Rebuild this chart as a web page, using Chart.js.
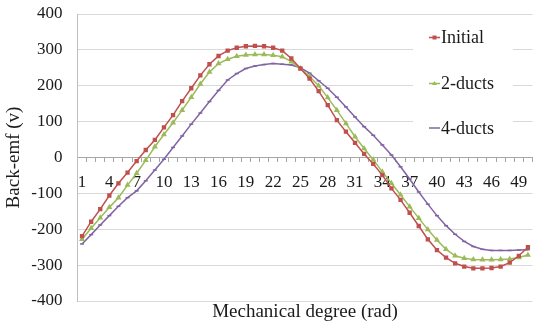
<!DOCTYPE html>
<html>
<head>
<meta charset="utf-8">
<script src="https://cdn.jsdelivr.net/npm/chart.js@4.4.1/dist/chart.umd.min.js"></script>
<style>
    html, body { margin: 0; padding: 0; background: #ffffff; }
    #wrap { width: 539px; height: 326px; }
</style>
</head>
<body>
<div id="wrap"><canvas id="chart"></canvas></div>
<script>
// Mechanical degree categories (1..50), every 3rd one gets a label
const degrees = [1, 2, 3, 4, 5, 6, 7, 8, 9, 10, 11, 12, 13, 14, 15, 16, 17, 18, 19, 20,
    21, 22, 23, 24, 25, 26, 27, 28, 29, 30, 31, 32, 33, 34, 35, 36, 37, 38, 39, 40,
    41, 42, 43, 44, 45, 46, 47, 48, 49, 50];

const seriesNames = ["Initial", "2-ducts", "4-ducts"];

// Back-emf values
const initialEmf = [-219, -179, -144, -106, -72, -42, -10, 21, 49, 84,
    118, 157, 193, 229, 260, 283, 298, 306, 310, 311,
    310, 306, 298, 276, 248, 220, 185, 146, 104, 72,
    41, 10, -18, -49, -86, -118, -154, -191, -228, -258,
    -279, -295, -304, -309, -309, -308, -304, -293, -274, -250];

const twoDuctsEmf = [-228, -197, -168, -139, -112, -77, -44, -8, 30, 64,
    97, 132, 168, 205, 238, 262, 274, 282, 286, 287,
    287, 285, 281, 267, 248, 226, 200, 167, 132, 95,
    58, 25, -6, -40, -72, -104, -137, -169, -201, -230,
    -256, -274, -281, -284, -285, -285, -284, -283, -279, -272];

const fourDuctsEmf = [-241, -215, -188, -162, -136, -112, -93, -65, -35, -5,
    28, 60, 93, 124, 156, 187, 216, 234, 248, 255,
    259, 262, 260, 258, 250, 235, 214, 193, 168, 141,
    113, 86, 62, 35, 7, -26, -60, -96, -130, -162,
    -190, -214, -234, -248, -256, -259, -259, -259, -258, -257];

const seriesColors = ['#C0504D', '#9BBB59', '#8064A2'];
const fontFamily = '"Liberation Serif", "Times New Roman", serif';

// legend drawn inside the plot, on a white box over the grid
const insideLegend = {
    id: 'insideLegend',
    beforeDatasetsDraw(chart) {
        const ctx = chart.ctx;
        ctx.save();
        ctx.fillStyle = '#ffffff';
        ctx.fillRect(413, 20, 100, 125);
        const rows = [37.5, 83.5, 128];
        chart.data.datasets.forEach((ds, i) => {
            const y = rows[i];
            ctx.strokeStyle = ds.borderColor;
            ctx.lineWidth = 1.5;
            ctx.beginPath();
            ctx.moveTo(429, y);
            ctx.lineTo(440, y);
            ctx.stroke();
            ctx.fillStyle = ds.borderColor;
            if (ds.pointStyle === 'rect') {
                ctx.fillRect(432.5, y - 2, 4, 4);
            } else if (ds.pointStyle === 'triangle') {
                ctx.beginPath();
                ctx.moveTo(434.5, y - 2.5);
                ctx.lineTo(437, y + 1.5);
                ctx.lineTo(432, y + 1.5);
                ctx.closePath();
                ctx.fill();
            }
            ctx.fillStyle = '#1a1a1a';
            ctx.font = '18px ' + fontFamily;
            ctx.textAlign = 'left';
            ctx.textBaseline = 'middle';
            ctx.fillText(ds.label, 441, y + 1);
        });
        ctx.restore();
    }
};

new Chart(document.getElementById('chart'), {
    type: 'line',
    data: {
        labels: degrees,
        datasets: [{
            label: seriesNames[0],
            data: initialEmf,
            borderColor: seriesColors[0],
            backgroundColor: seriesColors[0],
            pointStyle: 'rect',
            pointRadius: 2,
            borderWidth: 1.5
        }, {
            label: seriesNames[1],
            data: twoDuctsEmf,
            borderColor: seriesColors[1],
            backgroundColor: seriesColors[1],
            pointStyle: 'triangle',
            pointRadius: 2,
            borderWidth: 1.5
        }, {
            label: seriesNames[2],
            data: fourDuctsEmf,
            borderColor: seriesColors[2],
            backgroundColor: seriesColors[2],
            pointStyle: 'line',
            pointRadius: 2,
            borderWidth: 1.5
        }]
    },
    options: {
        responsive: true,
        maintainAspectRatio: false,
        animation: false,
        devicePixelRatio: 1,
        layout: {
            padding: { top: 14, right: 0, bottom: 0, left: 0 }
        },
        plugins: {
            legend: { display: false },
            tooltip: { enabled: false }
        },
        scales: {
            x: {
                type: 'category',
                position: { y: 0 },
                offset: true,
                grid: {
                    offset: true,
                    drawOnChartArea: false,
                    drawTicks: true,
                    tickLength: 4,
                    color: '#a6a6a6'
                },
                border: { display: true, color: '#a6a6a6' },
                ticks: {
                    autoSkip: false,
                    maxRotation: 0,
                    padding: 11,
                    color: '#1a1a1a',
                    font: { family: fontFamily, size: 17 },
                    callback: function (value, index) {
                        return index % 3 === 0 ? this.getLabelForValue(value) : '';
                    }
                }
            },
            xTitle: {
                type: 'category',
                position: 'bottom',
                offset: true,
                grid: { display: false, drawTicks: false },
                border: { display: false },
                ticks: { display: false },
                title: {
                    display: true,
                    text: 'Mechanical degree (rad)',
                    color: '#1a1a1a',
                    font: { family: fontFamily, size: 19 },
                    padding: { top: 0, bottom: 3 }
                },
                afterFit: function (scale) { scale.height = 25; }
            },
            y: {
                min: -400,
                max: 400,
                ticks: {
                    stepSize: 100,
                    padding: 15,
                    color: '#1a1a1a',
                    font: { family: fontFamily, size: 17 }
                },
                grid: { color: '#d9d9d9', drawTicks: false },
                border: { display: true, color: '#bfbfbf' },
                title: {
                    display: true,
                    text: 'Back-emf (v)',
                    color: '#1a1a1a',
                    font: { family: fontFamily, size: 19 },
                    padding: { top: 3, bottom: 4 }
                },
                afterFit: function (scale) {
                    scale.width = 77.5;
                    // keep the tick padding from pushing the plot down
                    scale.paddingTop = 0;
                    scale.paddingBottom = 0;
                }
            }
        }
    },
    plugins: [insideLegend]
});
</script>
</body>
</html>
